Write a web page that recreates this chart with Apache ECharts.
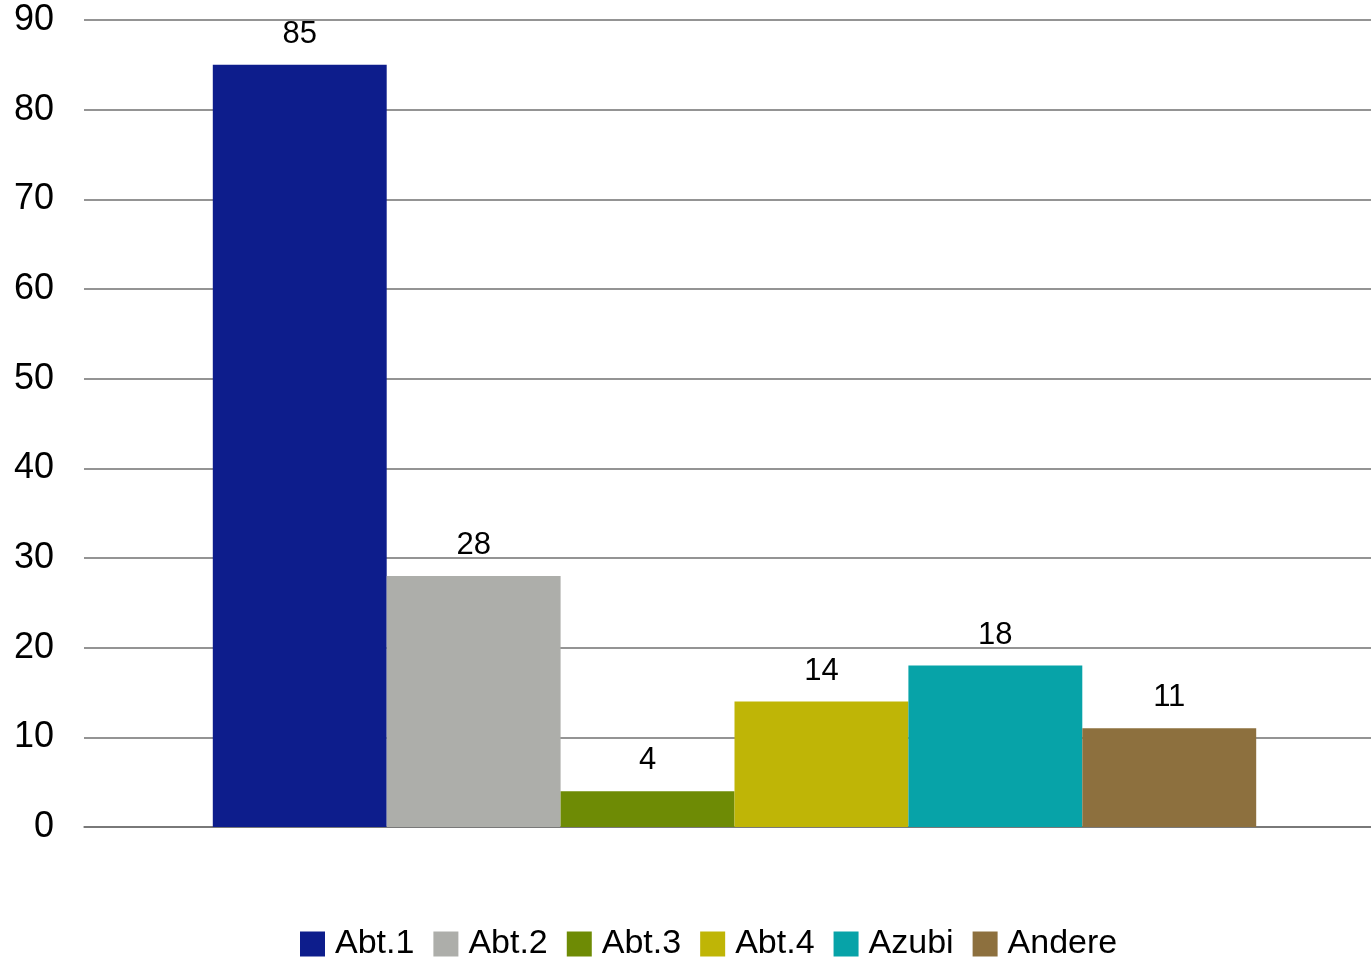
<!DOCTYPE html>
<html>
<head>
<meta charset="utf-8">
<script src="https://cdn.jsdelivr.net/npm/echarts@6/dist/echarts.min.js"></script>
<style>
html,body{margin:0;padding:0;background:#fff;overflow:hidden;}
#chart{width:1385px;height:957px;}
</style>
</head>
<body>
<div id="chart"></div>
<script>
// Daten
var names = ['Abt.1', 'Abt.2', 'Abt.3', 'Abt.4', 'Azubi', 'Andere']
var values = [85, 28, 4, 14, 18, 11]
var colors = ['#0d1d8c', '#adaeaa', '#6e8b05', '#bfb506', '#07a3a8', '#8d703e']
var yTicks = { min: 0, max: 90, interval: 10 }

var chart = echarts.init(document.getElementById('chart'))

var series = names.map(function (n, i) {
    return {
        name: n,
        type: 'bar',
        data: [values[i]],
        barGap: '0%',
        barCategoryGap: '19.8%',
        itemStyle: { color: colors[i] },
        label: {
            show: true,
            position: 'top',
            distance: 15,
            color: '#000',
            fontSize: 31,
            fontFamily: 'Liberation Sans'
        }
    }
})

var option = {
    animation: false,
    color: colors,
    grid: { left: 84, right: 0, top: 20, bottom: 130, containLabel: false },
    legend: {
        data: names,
        bottom: -9,
        left: 295,
        itemWidth: 25,
        itemHeight: 25,
        itemGap: 19,
        icon: 'rect',
        textStyle: { fontSize: 34, color: '#000', fontFamily: 'Liberation Sans', padding: [0, 0, 0, 5] }
    },
    xAxis: {
        type: 'category',
        data: [''],
        axisLine: { show: true, lineStyle: { color: '#707070', width: 1.5 } },
        axisTick: { show: false },
        axisLabel: { show: false }
    },
    yAxis: {
        type: 'value',
        min: yTicks.min,
        max: yTicks.max,
        interval: yTicks.interval,
        axisLine: { show: false },
        axisTick: { show: false },
        axisLabel: { fontSize: 36, color: '#000', margin: 30, padding: [4, 0, 0, 0], fontFamily: 'Liberation Sans' },
        splitLine: { lineStyle: { color: '#707070', width: 1.5 } }
    },
    series: series
}

chart.setOption(option)
</script>
</body>
</html>
